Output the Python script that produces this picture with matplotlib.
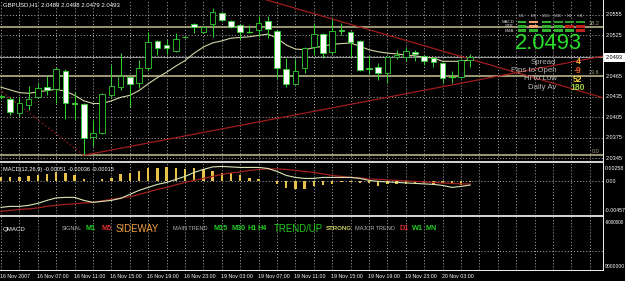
import matplotlib
matplotlib.use("Agg")
import matplotlib.pyplot as plt
from matplotlib.patches import Rectangle

# ---------------- data ----------------
opens = [2.0435, 2.0432, 2.0411, 2.0423, 2.0435, 2.0449, 2.0446, 2.0473, 2.0426, 2.0424,
         2.0376, 2.0382, 2.0438, 2.0449, 2.0464, 2.0455, 2.0477, 2.0517, 2.0511, 2.0502,
         2.0523, 2.0542, 2.0530, 2.0542, 2.0558, 2.0546, 2.0540, 2.0530, 2.0533, 2.0546,
         2.0532, 2.0476, 2.0454, 2.0477, 2.0508, 2.0527, 2.0501, 2.0533, 2.0530, 2.0517,
         2.0477, 2.0479, 2.0470, 2.0493, 2.0493, 2.0501, 2.0495, 2.0492, 2.0485, 2.0464,
         2.0464, 2.0489]
highs = [2.0439, 2.0435, 2.0435, 2.0451, 2.0455, 2.0465, 2.0479, 2.0476, 2.0442, 2.0426,
         2.0401, 2.0440, 2.0482, 2.0499, 2.0465, 2.0489, 2.0530, 2.0518, 2.0520, 2.0529,
         2.0524, 2.0543, 2.0539, 2.0565, 2.0559, 2.0548, 2.0542, 2.0540, 2.0554, 2.0554,
         2.0533, 2.0492, 2.0490, 2.0508, 2.0543, 2.0529, 2.0549, 2.0543, 2.0532, 2.0518,
         2.0496, 2.0485, 2.0495, 2.0504, 2.0508, 2.0504, 2.0496, 2.0493, 2.0486, 2.0473,
         2.0490, 2.0498]
lows = [2.0432, 2.0408, 2.0407, 2.0415, 2.0433, 2.0438, 2.0426, 2.0402, 2.0401, 2.0349,
        2.0363, 2.0380, 2.0435, 2.0445, 2.0420, 2.0448, 2.0474, 2.0496, 2.0498, 2.0501,
        2.0521, 2.0529, 2.0529, 2.0523, 2.0546, 2.0536, 2.0518, 2.0529, 2.0523, 2.0521,
        2.0463, 2.0449, 2.0452, 2.0470, 2.0498, 2.0492, 2.0498, 2.0526, 2.0493, 2.0473,
        2.0468, 2.0460, 2.0455, 2.0490, 2.0487, 2.0487, 2.0482, 2.0479, 2.0455, 2.0455,
        2.0463, 2.0479]
closes = [2.0436, 2.0413, 2.0426, 2.0432, 2.0448, 2.0445, 2.0476, 2.0426, 2.0425, 2.0374,
          2.0382, 2.0439, 2.0451, 2.0465, 2.0454, 2.0477, 2.0515, 2.0507, 2.0507, 2.0520,
          2.0522, 2.0537, 2.0537, 2.0559, 2.0548, 2.0537, 2.0530, 2.0530, 2.0543, 2.0534,
          2.0477, 2.0454, 2.0473, 2.0507, 2.0527, 2.0499, 2.0532, 2.0532, 2.0515, 2.0474,
          2.0476, 2.0470, 2.0493, 2.0496, 2.0502, 2.0498, 2.0487, 2.0486, 2.0463, 2.0464,
          2.0489, 2.0493]
ma_vals = [2.0449, 2.0445, 2.0441, 2.0440, 2.0442, 2.0444, 2.0446, 2.0443, 2.0437, 2.0429,
           2.0425, 2.0425, 2.0429, 2.0434, 2.0437, 2.0444, 2.0454, 2.0463, 2.0471, 2.0480,
           2.0488, 2.0499, 2.0508, 2.0514, 2.0517, 2.0521, 2.0522, 2.0523, 2.0525, 2.0527,
           2.0521, 2.0511, 2.0505, 2.0504, 2.0507, 2.0509, 2.0512, 2.0513, 2.0514, 2.0509,
           2.0504, 2.0501, 2.0499, 2.0498, 2.0496, 2.0495, 2.0493, 2.0492, 2.0487, 2.0487,
           2.0487, 2.0489]
macd_main = [-0.00364, -0.00350, -0.00350, -0.00336, -0.00308, -0.00266, -0.00231, -0.00224,
             -0.00224, -0.00266, -0.00294, -0.00280, -0.00266, -0.00238, -0.00182, -0.00126,
             -0.00084, -0.00042, -0.00014, 0.00028, 0.00070, 0.00126, 0.00168, 0.00203,
             0.00210, 0.00203, 0.00196, 0.00196, 0.00196, 0.00182, 0.00140, 0.00084,
             0.00056, 0.00042, 0.00042, 0.00056, 0.00056, 0.00056, 0.00056, 0.00042,
             0.00014, 0.00000, -0.00007, -0.00014, -0.00021, -0.00028, -0.00035, -0.00042,
             -0.00056, -0.00084, -0.00070, -0.00051]
macd_signal = [-0.00420, -0.00406, -0.00392, -0.00385, -0.00371, -0.00350, -0.00336, -0.00322,
               -0.00315, -0.00301, -0.00294, -0.00273, -0.00252, -0.00231, -0.00217, -0.00182,
               -0.00147, -0.00112, -0.00084, -0.00049, -0.00014, 0.00014, 0.00042, 0.00070,
               0.00098, 0.00119, 0.00133, 0.00154, 0.00168, 0.00175, 0.00175, 0.00168,
               0.00154, 0.00140, 0.00126, 0.00105, 0.00084, 0.00070, 0.00056, 0.00049,
               0.00035, 0.00028, 0.00021, 0.00014, 0.00007, 0.00000, -0.00007, -0.00014,
               -0.00021, -0.00028, -0.00035, -0.00036]
macd_hist = [0.00056, 0.00056, 0.00056, 0.00070, 0.00084, 0.00098, 0.00126, 0.00112,
             0.00084, 0.00028, 0.00007, 0.00028, 0.00042, 0.00098, 0.00112, 0.00140,
             0.00182, 0.00182, 0.00196, 0.00182, 0.00168, 0.00182, 0.00168, 0.00140,
             0.00112, 0.00112, 0.00084, 0.00042, 0.00028, 0.00007, -0.00042, -0.00098,
             -0.00112, -0.00112, -0.00070, -0.00045, -0.00040, -0.00010, -0.00010, -0.00020,
             -0.00028, -0.00065, -0.00040, -0.00040, -0.00030, -0.00020, -0.00020, -0.00030,
             -0.00020, -0.00020, -0.00050, -0.00015]
time_labels = ["16 Nov 2007", "16 Nov 07:00", "16 Nov 11:00", "16 Nov 15:00", "16 Nov 19:00",
               "16 Nov 23:00", "19 Nov 03:00", "19 Nov 07:00", "19 Nov 11:00", "19 Nov 15:00",
               "19 Nov 19:00", "19 Nov 23:00", "20 Nov 03:00"]
price_labels = [2.0555, 2.0525, 2.0465, 2.0435, 2.0405, 2.0375, 2.0345]
grid_prices = [2.0345, 2.0375, 2.0405, 2.0435, 2.0465, 2.0495, 2.0525, 2.0555]
fib_high, fib_low = 2.0841, 2.0349
fib_idx = [-38, 9]
fib_levels = [0.0, 23.6, 38.2]
trend_up_idx, trend_up_px = [9, 52], [2.0349, 2.0460]
trend_dn_idx, trend_dn_px = [28.9, 52.07], [2.0577, 2.0486]
macd_top, macd_bottom = 0.00258, -0.00457
qmacd_labels = ["-9000000", "9000000"]
tf_names = ["M1", "M5", "M15", "M30", "H1", "H4"]
row_names = ["MACD", "STR", "EMA"]
cell_colors = [["#2fb02f", "#f0a070", "#2fb02f", "#2a9a2a", "#2a9a2a", "#2a9a2a"],
               ["#2fb02f", "#f0a070", "#2fb02f", "#2fb02f", "#c02020", "#c02020"],
               ["#2fb02f", "#2fb02f", "#2fb02f", "#2fb02f", "#2fb02f", "#c02020"]]
info_labels = ["Spread", "Pips to Open", "Hi to Low", "Daily Av"]
info_values = ["4", "-9", "52", "180"]
info_colors = ["#f0b030", "#f05a28", "#f0d040", "#a0d040"]

# ---------------- layout ----------------
W, H = 625, 281
fig = plt.figure(figsize=(W / 100, H / 100), dpi=100, facecolor="black")
plt.rcParams["font.family"] = ["Liberation Sans", "DejaVu Sans"]
DX = 9.2
XL = (-1 / DX, 602 / DX)


def box(x0, y0, x1, y1):
    return [x0 / W, 1 - y1 / H, (x1 - x0) / W, (y1 - y0) / H]


def T(x, y, s, **kw):
    kw.setdefault("color", "white")
    kw.setdefault("va", "center")
    fig.text(x / W, 1 - y / H, s, **kw)


ax = fig.add_axes(box(0, 0, 603, 160))
axm = fig.add_axes(box(0, 163, 603, 214))
axq = fig.add_axes(box(0, 217, 603, 270))
for a in (ax, axm, axq):
    a.set_facecolor("black")
    a.set_xlim(*XL)
    a.set_xticks([])
    a.set_yticks([])
    for s in a.spines.values():
        s.set_visible(False)

pmin = 2.0555 - 145 * 0.00014685
pmax = 2.0555 + 15 * 0.00014685
ax.set_ylim(pmin, pmax)
axm.set_ylim(macd_bottom, macd_top)
axq.set_ylim(0, 1)

n = len(opens)
idx = list(range(n))
grid_kw = dict(color="#c8c8c8", lw=0.6, ls=(0, (1.2, 2.5)), zorder=0)
for a in (ax, axm, axq):
    for g in range(0, 66, 2):
        a.axvline(g, **grid_kw)
for gp in grid_prices:
    ax.axhline(gp, **grid_kw)
axm.axhline(0, **grid_kw)
axq.axhline(0.36, **grid_kw)

# fibonacci
fib_col = "#a8a27a"
for lv in fib_levels:
    p = fib_low + (fib_high - fib_low) * lv / 100
    ax.axhline(p, color=fib_col, lw=1.3, zorder=1)
    ax.text(65.0, p + 0.0002, f"{lv:.1f}", color=fib_col, fontsize=4.0,
            ha="right", va="bottom", zorder=6)
ax.plot(fib_idx, [fib_high, fib_low], color="#a01818", lw=0.8, ls=(0, (1.5, 2)), zorder=2)


def ray(xs, ys, both=False):
    k = (ys[1] - ys[0]) / (xs[1] - xs[0])
    x0 = -5 if both else xs[0]
    x1 = 70
    ax.plot([x0, x1], [ys[0] + k * (x0 - xs[0]), ys[0] + k * (x1 - xs[0])],
            color="#a01c1c", lw=0.9, zorder=2)


ray(trend_up_idx, trend_up_px)
ray(trend_dn_idx, trend_dn_px, both=True)

# bid line
ax.axhline(closes[-1], color="#9a9a9a", lw=0.7, zorder=1)

# moving average
ax.plot(idx, ma_vals, color="#d4d4a4", lw=0.8, zorder=3)

# candles
green = "#30d030"
bw = 0.6
for i in idx:
    o, h, l, c = opens[i], highs[i], lows[i], closes[i]
    ax.plot([i, i], [l, h], color=green, lw=0.75, zorder=4, solid_capstyle="butt")
    lo, hi = min(o, c), max(o, c)
    face = "white" if c < o else "black"
    if hi - lo < 0.00006:
        ax.plot([i - bw / 2, i + bw / 2], [o, o], color=green, lw=0.9, zorder=5)
    else:
        ax.add_patch(Rectangle((i - bw / 2, lo), bw, hi - lo, facecolor=face,
                               edgecolor=green, lw=0.6, zorder=5))

# MACD panel
axm.bar(idx, macd_hist, width=0.24, color="#e6c24a", zorder=2)
axm.plot(idx, macd_signal, color="#a42020", lw=0.9, zorder=3)
axm.plot(idx, macd_main, color="#d8e8b8", lw=0.8, zorder=4)

# separators / frame
for (y0, y1, col) in [(160.5, 163, "#d0d0d0"), (214.5, 217, "#d0d0d0"), (269.5, 270.8, "#e8e8e8")]:
    fig.add_artist(Rectangle((0, 1 - y1 / H), 604 / W, (y1 - y0) / H,
                             transform=fig.transFigure, color=col, lw=0))
fig.add_artist(Rectangle((603 / W, 1 - 270.8 / H), 1.2 / W, 270.8 / H,
                         transform=fig.transFigure, color="#e8e8e8", lw=0))

# texts: title & axes
fs = 4.0
T(3, 5, "GBPUSD,H1  2.0489 2.0498 2.0479 2.0493", fontsize=4.3)
pscale = 160 / (pmax - pmin)
for p in price_labels:
    T(606, (pmax - p) * pscale, f"{p:.4f}", fontsize=fs)
yb = (pmax - closes[-1]) * pscale
fig.add_artist(Rectangle((604 / W, 1 - (yb + 4.5) / H), 21 / W, 9 / H,
                         transform=fig.transFigure, color="white", lw=0))
T(605.5, yb, f"{closes[-1]:.4f}", fontsize=fs, color="black")

mscale = 51 / (macd_top - macd_bottom)
T(604.5, 168, f"{macd_top:.5f}", fontsize=3.8)
T(606, 163 + macd_top * mscale, "0.00", fontsize=3.8)
T(604.5, 211, f"{macd_bottom:.5f}", fontsize=3.8)
T(3, 169, "MACD(12,26,9) -0.00051 -0.00036 -0.00015", fontsize=4.1)

T(604.3, 222.5, qmacd_labels[0], fontsize=3.4)
T(604.5, 266.5, qmacd_labels[1], fontsize=3.6)

for k, lab in enumerate(time_labels):
    x = 1 + DX * 4 * k
    T(max(x - 1, 0.5), 276, lab, fontsize=3.8)

# QMACD panel
T(3, 230, "QMACD", fontsize=4.4)
q_items = [
    (62, "SIGNAL", "#b4b4b4", 4.0, "normal"),
    (86, "M1", "#22cc22", 5.2, "bold"),
    (101, "M5", "#e03030", 5.2, "bold"),
    (116, "SIDEWAY", "#f0a040", 6.9, "normal"),
    (173, "MAIN TREND", "#b4b4b4", 4.0, "normal"),
    (213, "M15", "#22cc22", 5.2, "bold"),
    (231, "M30", "#22cc22", 5.2, "bold"),
    (248, "H1", "#22cc22", 5.2, "bold"),
    (258, "H4", "#22cc22", 5.2, "bold"),
    (274, "TREND/UP", "#22cc22", 6.9, "normal"),
    (326, "STRONG", "#c8d060", 4.4, "bold"),
    (355, "MAJOR TREND", "#b4b4b4", 4.0, "normal"),
    (400, "D1", "#e03030", 5.2, "bold"),
    (412, "W1", "#22cc22", 5.2, "bold"),
    (426, "MN", "#22cc22", 5.2, "bold"),
]
for x, s, c, f, wgt in q_items:
    T(x, 228.5, s, color=c, fontsize=f, fontweight=wgt)

# info panel (upper right)
col_x = [517.5, 529, 542, 554, 565, 576]
for j, name in enumerate(tf_names):
    T(col_x[j] + 4.2, 16, name, fontsize=3.2, color="#b0b0b0", ha="center")
row_y = [20.7, 25.0, 29.3]
for r, name in enumerate(row_names):
    T(514, row_y[r] + 1.2, name, fontsize=3.2, color="#d0d0d0", ha="right")
    for j in range(6):
        fig.add_artist(Rectangle((col_x[j] / W, 1 - (row_y[r] + 2.6) / H), 8.5 / W, 2.6 / H,
                                 transform=fig.transFigure, color=cell_colors[r][j], lw=0))
T(548.5, 43.5, f"{closes[-1]:.4f}", fontsize=15.8, color="#28e028", ha="center")
info_y = [62, 70.5, 79, 87.5]
for k in range(4):
    T(556.5, info_y[k], info_labels[k], fontsize=5.7, color="#b4b4b4", ha="right")
    T(578, info_y[k], info_values[k], fontsize=6.2, color=info_colors[k], ha="center",
      fontweight="bold")

fig.savefig("out.png", dpi=100, facecolor="black")
